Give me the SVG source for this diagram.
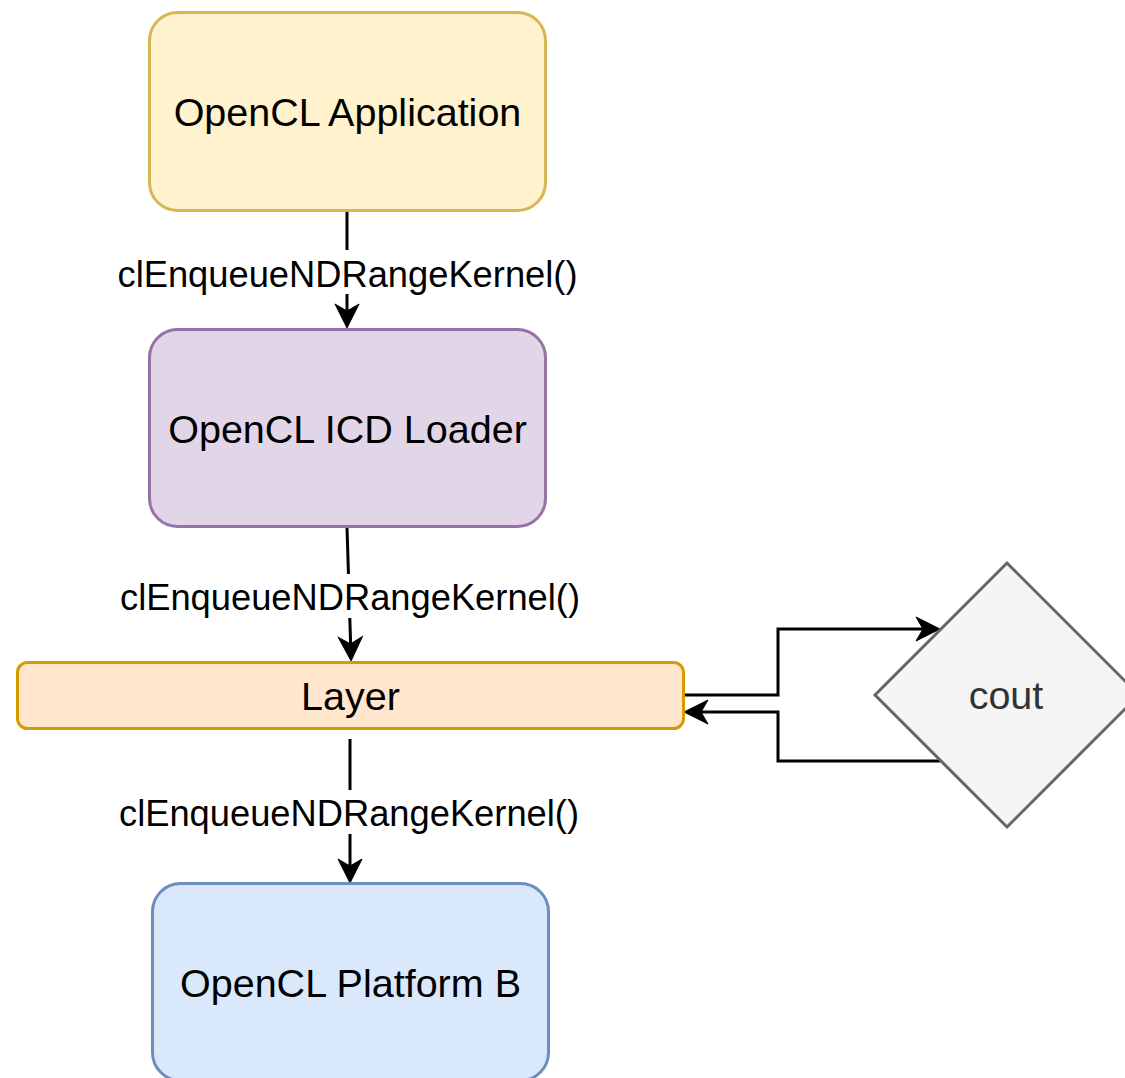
<svg xmlns="http://www.w3.org/2000/svg" width="1125" height="1078" viewBox="0 0 1125 1078">
  <style>
    .node text { font-family: "Liberation Sans", Arial, sans-serif; font-size: 39.5px; text-anchor: middle; fill: #000000; }
    .lbl { font-family: "Liberation Sans", Arial, sans-serif; font-size: 36.3px; text-anchor: middle; fill: #000000; }
    .edge { fill: none; stroke: #000000; stroke-width: 3; marker-end: url(#arrow); }
    .lblbg { fill: #ffffff; }
  </style>
  <defs>
    <marker id="arrow" markerUnits="userSpaceOnUse" markerWidth="30" markerHeight="30" refX="-4" refY="0" orient="auto" overflow="visible">
      <path d="M-24,-12 L0,0 L-24,12 L-17,0 Z" fill="#000000" stroke="#000000" stroke-width="1"/>
    </marker>
  </defs>
  <rect width="1125" height="1078" fill="#ffffff"/>

  <g id="connectors">
    <path class="edge" d="M347,211 L347,324"/>
    <path class="edge" d="M347,527 L351,657"/>
    <path class="edge" d="M350,739 L350,879"/>
    <path class="edge" d="M684,695 L778,695 L778,629 L936,629"/>
    <path class="edge" d="M940,761 L778,761 L778,712 L688,712"/>
    <g id="edge-labels">
      <rect class="lblbg" x="115" y="250" width="465" height="44"/>
      <text class="lbl" x="347.5" y="287">clEnqueueNDRangeKernel()</text>
      <rect class="lblbg" x="119" y="574" width="463" height="44"/>
      <text class="lbl" x="350" y="610">clEnqueueNDRangeKernel()</text>
      <rect class="lblbg" x="117" y="790" width="464" height="44"/>
      <text class="lbl" x="349" y="826">clEnqueueNDRangeKernel()</text>
    </g>
  </g>

  <g id="node-app" class="node">
    <rect x="149.5" y="12.5" width="396" height="198" rx="28" ry="28" fill="#fff2cc" stroke="#d6b656" stroke-width="3"/>
    <text x="347.5" y="126">OpenCL Application</text>
  </g>
  <g id="node-icd" class="node">
    <rect x="149.5" y="329.5" width="396" height="197" rx="28" ry="28" fill="#e1d5e7" stroke="#9673a6" stroke-width="3"/>
    <text x="347.5" y="443">OpenCL ICD Loader</text>
  </g>
  <g id="node-layer" class="node">
    <rect x="17.5" y="662.5" width="666" height="66" rx="10" ry="10" fill="#ffe6cc" stroke="#d79b00" stroke-width="3"/>
    <text x="350.5" y="710">Layer</text>
  </g>
  <g id="node-platform" class="node">
    <rect x="152.5" y="883.5" width="396" height="197" rx="28" ry="28" fill="#dae8fc" stroke="#6c8ebf" stroke-width="3"/>
    <text x="350.5" y="997">OpenCL Platform B</text>
  </g>
  <g id="node-cout" class="node">
    <polygon points="1007,563 1139,695 1007,827 875,695" fill="#f5f5f5" stroke="#666666" stroke-width="3"/>
    <text x="1006" y="709" style="fill:#333333">cout</text>
  </g>
</svg>
